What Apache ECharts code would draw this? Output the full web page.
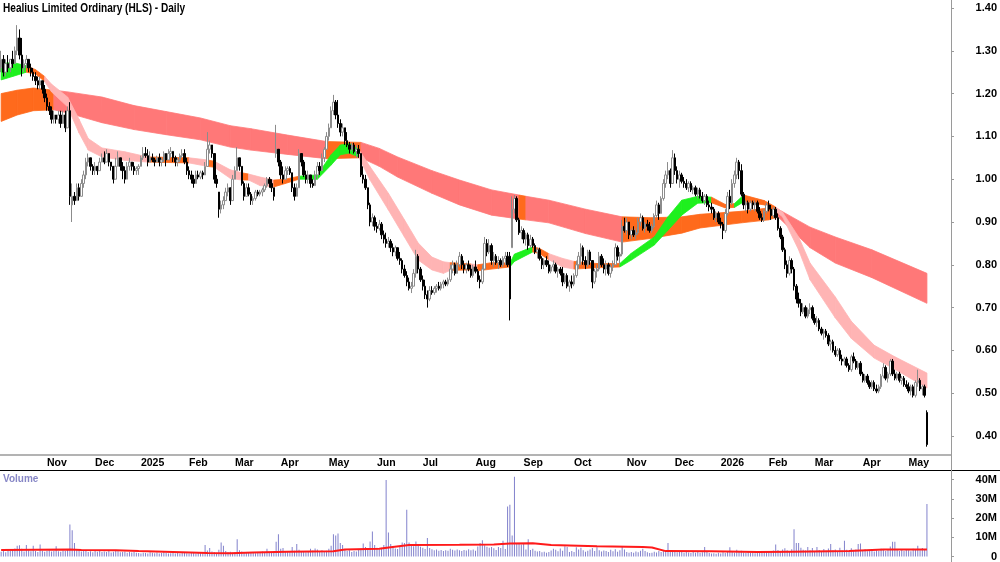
<!DOCTYPE html>
<html>
<head>
<meta charset="utf-8">
<script src="https://cdn.jsdelivr.net/npm/echarts@6/dist/echarts.min.js"></script>
<style>
html,body{margin:0;padding:0;background:#fff;}
#main{width:1000px;height:562px;}
</style>
</head>
<body>
<div id="main"></div>
<script>
// daily bars, one row = 10 sessions
var opens = [
1.26,1.28,1.25,1.27,1.26,1.28,1.27,1.30,1.33,1.29,
1.26,1.27,1.28,1.26,1.25,1.24,1.23,1.22,1.23,1.21,
1.19,1.17,1.16,1.14,1.15,1.14,1.15,1.13,1.15,1.12,
1.16,0.94,0.96,0.95,0.98,0.96,0.99,1.01,1.04,1.05,
1.03,1.02,1.03,1.02,1.04,1.05,1.04,1.06,1.04,1.03,
1.00,1.03,1.05,1.03,1.02,1.00,1.03,1.04,1.03,1.02,
1.025,1.03,1.05,1.06,1.055,1.04,1.05,1.045,1.04,1.05,
1.04,1.045,1.06,1.045,1.06,1.065,1.05,1.04,1.045,1.055,
1.06,1.04,1.02,1.01,1.00,0.99,1.01,1.005,1.015,1.01,
1.03,1.07,1.08,1.06,1.00,0.97,0.93,0.94,0.95,0.97,
0.98,0.95,1.00,1.02,1.05,1.03,0.99,0.96,0.98,0.965,
0.95,0.955,0.97,0.965,0.97,0.975,0.985,1.00,0.99,0.98,
1.06,1.07,1.04,1.01,1.00,1.02,1.025,1.015,0.98,0.96,
0.98,1.06,1.04,1.01,1.00,1.01,0.99,0.985,1.01,1.03,
1.02,1.05,1.07,1.10,1.12,1.16,1.18,1.15,1.13,1.11,
1.12,1.09,1.08,1.07,1.08,1.065,1.07,1.06,1.01,1.00,
0.98,0.94,0.90,0.91,0.89,0.885,0.895,0.87,0.86,0.85,
0.855,0.84,0.83,0.84,0.815,0.81,0.79,0.775,0.76,0.745,
0.75,0.78,0.82,0.79,0.765,0.75,0.73,0.72,0.74,0.735,
0.745,0.75,0.745,0.755,0.76,0.755,0.765,0.79,0.80,0.78,
0.80,0.82,0.80,0.79,0.80,0.79,0.775,0.795,0.785,0.765,
0.76,0.79,0.85,0.83,0.845,0.81,0.82,0.805,0.81,0.80,
0.815,0.82,0.82,0.84,0.93,0.955,0.905,0.875,0.88,0.86,
0.87,0.845,0.86,0.845,0.83,0.835,0.815,0.80,0.81,0.80,
0.785,0.795,0.80,0.785,0.79,0.78,0.76,0.775,0.75,0.76,
0.755,0.775,0.80,0.82,0.84,0.81,0.80,0.83,0.81,0.76,
0.785,0.79,0.82,0.80,0.79,0.80,0.78,0.795,0.80,0.84,
0.82,0.825,0.89,0.88,0.90,0.87,0.88,0.87,0.875,0.90,
0.91,0.885,0.895,0.89,0.88,0.89,0.915,0.94,0.92,0.955,
0.99,1.01,1.02,0.99,1.05,1.02,1.00,1.01,0.995,0.99,
0.98,0.99,0.975,0.98,0.965,0.975,0.96,0.95,0.96,0.94,
0.935,0.93,0.91,0.92,0.90,0.895,0.88,0.92,0.96,0.945,
0.99,1.01,1.04,1.02,0.965,0.94,0.945,0.93,0.945,0.94,
0.945,0.925,0.91,0.905,0.925,0.94,0.93,0.915,0.93,0.91,
0.885,0.865,0.835,0.80,0.78,0.81,0.79,0.75,0.72,0.71,
0.69,0.70,0.68,0.695,0.70,0.675,0.665,0.67,0.65,0.64,
0.645,0.635,0.615,0.62,0.60,0.59,0.60,0.58,0.575,0.58,
0.565,0.555,0.585,0.575,0.56,0.57,0.545,0.53,0.54,0.525,
0.515,0.525,0.51,0.505,0.515,0.54,0.56,0.535,0.545,0.575,
0.545,0.535,0.545,0.53,0.535,0.52,0.515,0.505,0.515,0.495,
0.525,0.53,0.51,0.515,0.455
];
var highs = [
1.30,1.29,1.28,1.29,1.28,1.30,1.31,1.36,1.35,1.33,
1.28,1.29,1.28,1.27,1.26,1.25,1.24,1.24,1.23,1.22,
1.20,1.18,1.17,1.16,1.15,1.16,1.16,1.16,1.16,1.17,
1.18,0.99,0.97,0.99,0.99,1.00,1.02,1.05,1.06,1.05,
1.035,1.04,1.03,1.05,1.06,1.065,1.07,1.06,1.04,1.03,
1.05,1.065,1.05,1.04,1.03,1.04,1.05,1.04,1.04,1.03,
1.035,1.055,1.075,1.075,1.07,1.065,1.06,1.05,1.055,1.06,
1.05,1.065,1.06,1.07,1.075,1.065,1.055,1.05,1.06,1.07,
1.07,1.05,1.03,1.02,1.01,1.02,1.02,1.02,1.02,1.04,
1.11,1.09,1.08,1.06,1.01,0.97,0.95,0.96,0.98,0.99,
0.98,1.01,1.03,1.075,1.05,1.03,0.995,0.99,0.99,0.97,
0.96,0.975,0.975,0.975,0.98,0.99,1.005,1.005,1.00,0.98,
1.127,1.07,1.045,1.03,1.03,1.03,1.03,1.015,0.99,0.99,
1.07,1.06,1.045,1.02,1.02,1.01,1.00,1.02,1.04,1.04,
1.06,1.075,1.11,1.13,1.17,1.197,1.185,1.185,1.14,1.13,
1.12,1.11,1.087,1.085,1.085,1.08,1.08,1.06,1.03,1.01,
0.98,0.945,0.92,0.915,0.90,0.905,0.90,0.88,0.875,0.865,
0.86,0.85,0.845,0.84,0.83,0.815,0.80,0.785,0.77,0.76,
0.79,0.835,0.825,0.795,0.775,0.765,0.74,0.75,0.75,0.75,
0.755,0.76,0.76,0.765,0.765,0.77,0.80,0.81,0.805,0.81,
0.83,0.825,0.81,0.805,0.81,0.80,0.80,0.81,0.79,0.775,
0.80,0.865,0.86,0.86,0.85,0.83,0.825,0.82,0.815,0.82,
0.83,0.83,0.83,0.96,0.963,0.96,0.91,0.89,0.885,0.875,
0.875,0.87,0.865,0.85,0.84,0.84,0.82,0.815,0.82,0.81,
0.80,0.81,0.805,0.795,0.795,0.795,0.78,0.78,0.765,0.775,
0.78,0.81,0.83,0.85,0.845,0.82,0.835,0.835,0.81,0.79,
0.80,0.83,0.825,0.815,0.81,0.805,0.80,0.81,0.85,0.845,
0.83,0.905,0.91,0.91,0.90,0.885,0.89,0.885,0.91,0.92,
0.915,0.90,0.905,0.90,0.895,0.92,0.95,0.945,0.96,1.00,
1.02,1.04,1.025,1.068,1.06,1.03,1.02,1.015,1.005,1.00,
0.995,0.995,0.985,0.985,0.98,0.98,0.97,0.965,0.965,0.95,
0.945,0.935,0.925,0.925,0.91,0.90,0.93,0.97,0.975,1.00,
1.02,1.05,1.045,1.035,0.97,0.95,0.95,0.95,0.95,0.95,
0.95,0.935,0.92,0.93,0.945,0.95,0.94,0.935,0.935,0.92,
0.89,0.87,0.84,0.81,0.82,0.815,0.795,0.755,0.735,0.72,
0.71,0.705,0.70,0.71,0.705,0.685,0.68,0.675,0.655,0.65,
0.65,0.64,0.625,0.625,0.61,0.605,0.605,0.59,0.585,0.585,
0.57,0.59,0.595,0.58,0.575,0.575,0.55,0.545,0.545,0.53,
0.53,0.53,0.52,0.52,0.545,0.57,0.565,0.55,0.58,0.58,
0.555,0.55,0.55,0.54,0.54,0.53,0.525,0.52,0.52,0.53,
0.555,0.535,0.52,0.52,0.46
];
var lows = [
1.25,1.24,1.24,1.25,1.25,1.26,1.27,1.29,1.28,1.24,
1.25,1.26,1.25,1.24,1.23,1.22,1.21,1.21,1.20,1.18,
1.16,1.15,1.13,1.13,1.13,1.13,1.12,1.13,1.11,1.12,
0.94,0.90,0.94,0.95,0.95,0.96,0.98,1.00,1.03,1.02,
1.01,1.01,1.01,1.02,1.04,1.035,1.04,1.03,1.02,0.99,
1.00,1.03,1.02,1.00,0.99,1.00,1.02,1.02,1.01,1.01,
1.01,1.03,1.045,1.05,1.03,1.04,1.04,1.03,1.04,1.03,
1.03,1.04,1.03,1.045,1.05,1.04,1.03,1.03,1.04,1.05,
1.035,1.01,1.00,0.99,0.98,0.99,1.00,1.00,1.00,1.01,
1.03,1.06,1.05,0.99,0.98,0.91,0.92,0.93,0.95,0.96,
0.94,0.95,1.00,1.02,1.02,0.985,0.95,0.96,0.96,0.94,
0.94,0.95,0.96,0.96,0.96,0.97,0.98,0.98,0.97,0.95,
1.05,1.03,1.00,0.99,1.00,1.01,1.01,0.97,0.95,0.96,
0.98,1.03,1.005,0.99,0.99,0.98,0.98,0.985,1.00,1.01,
1.02,1.04,1.07,1.09,1.12,1.15,1.14,1.12,1.10,1.10,
1.08,1.075,1.06,1.065,1.06,1.05,1.05,1.005,0.99,0.975,
0.93,0.89,0.89,0.88,0.875,0.88,0.86,0.85,0.84,0.84,
0.83,0.82,0.82,0.81,0.80,0.78,0.77,0.75,0.74,0.734,
0.75,0.77,0.78,0.76,0.74,0.72,0.70,0.715,0.73,0.73,
0.735,0.74,0.74,0.745,0.75,0.75,0.76,0.78,0.775,0.78,
0.795,0.79,0.78,0.78,0.785,0.77,0.77,0.78,0.76,0.745,
0.755,0.79,0.82,0.825,0.80,0.795,0.80,0.79,0.795,0.795,
0.80,0.795,0.67,0.84,0.92,0.90,0.87,0.86,0.85,0.845,
0.835,0.84,0.84,0.825,0.815,0.81,0.79,0.79,0.795,0.78,
0.78,0.785,0.78,0.77,0.775,0.75,0.755,0.745,0.737,0.745,
0.75,0.77,0.79,0.80,0.80,0.79,0.795,0.80,0.745,0.755,
0.77,0.785,0.795,0.78,0.775,0.775,0.77,0.785,0.80,0.81,
0.80,0.82,0.875,0.87,0.86,0.86,0.865,0.86,0.87,0.89,
0.88,0.875,0.88,0.875,0.875,0.885,0.91,0.905,0.92,0.95,
0.98,1.00,0.98,0.99,1.01,0.99,0.98,0.99,0.98,0.975,
0.97,0.97,0.965,0.96,0.955,0.955,0.945,0.94,0.935,0.925,
0.92,0.905,0.90,0.895,0.885,0.86,0.875,0.915,0.93,0.94,
0.98,1.00,1.00,0.96,0.93,0.925,0.92,0.925,0.93,0.925,
0.92,0.905,0.90,0.90,0.92,0.925,0.905,0.91,0.905,0.88,
0.86,0.83,0.79,0.77,0.775,0.78,0.74,0.71,0.70,0.68,
0.685,0.675,0.675,0.685,0.67,0.66,0.655,0.645,0.635,0.625,
0.63,0.61,0.60,0.595,0.585,0.585,0.575,0.565,0.565,0.56,
0.55,0.55,0.57,0.555,0.555,0.54,0.525,0.525,0.52,0.51,
0.51,0.505,0.50,0.50,0.51,0.535,0.53,0.525,0.54,0.54,
0.53,0.53,0.525,0.52,0.515,0.51,0.50,0.495,0.49,0.49,
0.515,0.505,0.495,0.49,0.375
];
var closes = [
1.28,1.25,1.27,1.26,1.28,1.27,1.30,1.33,1.29,1.26,
1.27,1.28,1.26,1.25,1.24,1.23,1.22,1.23,1.21,1.19,
1.17,1.16,1.14,1.15,1.14,1.15,1.13,1.15,1.12,1.16,
0.96,0.96,0.95,0.98,0.96,0.99,1.01,1.04,1.05,1.03,
1.02,1.03,1.02,1.04,1.05,1.04,1.06,1.04,1.03,1.00,
1.03,1.05,1.03,1.02,1.00,1.03,1.04,1.03,1.02,1.025,
1.03,1.05,1.06,1.055,1.04,1.05,1.045,1.04,1.05,1.04,
1.045,1.06,1.045,1.06,1.065,1.05,1.04,1.045,1.055,1.06,
1.04,1.02,1.01,1.00,0.99,1.01,1.005,1.015,1.01,1.03,
1.07,1.08,1.06,1.00,0.99,0.93,0.94,0.95,0.97,0.98,
0.95,1.00,1.02,1.05,1.03,0.99,0.96,0.98,0.965,0.95,
0.955,0.97,0.965,0.97,0.975,0.985,1.00,0.99,0.98,0.96,
1.07,1.04,1.01,1.00,1.02,1.025,1.015,0.98,0.96,0.98,
1.06,1.04,1.01,1.00,1.01,0.99,0.985,1.01,1.03,1.02,
1.05,1.07,1.10,1.12,1.16,1.18,1.15,1.13,1.11,1.12,
1.09,1.08,1.07,1.08,1.065,1.07,1.06,1.01,1.00,0.98,
0.94,0.90,0.91,0.89,0.885,0.895,0.87,0.86,0.85,0.855,
0.84,0.83,0.84,0.815,0.81,0.79,0.775,0.76,0.745,0.75,
0.78,0.82,0.79,0.765,0.75,0.73,0.72,0.74,0.735,0.745,
0.75,0.745,0.755,0.76,0.755,0.765,0.79,0.80,0.78,0.80,
0.82,0.80,0.79,0.80,0.79,0.775,0.795,0.785,0.765,0.76,
0.79,0.85,0.83,0.845,0.81,0.82,0.805,0.81,0.80,0.815,
0.82,0.80,0.72,0.93,0.955,0.905,0.875,0.88,0.86,0.87,
0.845,0.86,0.845,0.83,0.835,0.815,0.80,0.81,0.80,0.785,
0.795,0.80,0.785,0.79,0.78,0.76,0.775,0.75,0.76,0.755,
0.775,0.80,0.82,0.84,0.81,0.80,0.83,0.81,0.76,0.785,
0.79,0.82,0.80,0.79,0.80,0.78,0.795,0.80,0.84,0.82,
0.825,0.89,0.88,0.90,0.87,0.88,0.87,0.875,0.90,0.91,
0.885,0.895,0.89,0.88,0.89,0.915,0.94,0.92,0.955,0.99,
1.01,1.02,0.99,1.05,1.02,1.00,1.01,0.995,0.99,0.98,
0.99,0.975,0.98,0.965,0.975,0.96,0.95,0.96,0.94,0.935,
0.93,0.91,0.92,0.90,0.895,0.88,0.92,0.96,0.945,0.99,
1.01,1.04,1.02,0.965,0.94,0.945,0.93,0.945,0.94,0.945,
0.925,0.91,0.905,0.925,0.94,0.93,0.915,0.93,0.91,0.885,
0.865,0.835,0.80,0.78,0.81,0.79,0.75,0.72,0.71,0.69,
0.70,0.68,0.695,0.70,0.675,0.665,0.67,0.65,0.64,0.645,
0.635,0.615,0.62,0.60,0.59,0.60,0.58,0.575,0.58,0.565,
0.555,0.585,0.575,0.56,0.57,0.545,0.53,0.54,0.525,0.515,
0.525,0.51,0.505,0.515,0.54,0.56,0.535,0.545,0.575,0.545,
0.535,0.545,0.53,0.535,0.52,0.515,0.505,0.515,0.495,0.525,
0.53,0.51,0.515,0.495,0.38
];
// volume in millions
var volumes = [
2.5,3.1,2.2,3.0,2.8,3.4,4.2,5.6,5.8,4.1,
2.6,6.0,3.2,2.7,5.6,2.9,2.4,6.2,3.0,2.5,
2.8,3.3,2.6,2.9,5.3,2.7,2.5,3.1,2.8,3.4,
16.7,13.7,7.0,3.8,3.6,2.6,2.9,3.1,2.4,2.7,
2.2,2.8,2.5,2.9,2.3,2.6,2.4,2.8,2.1,2.5,
3.0,2.7,2.2,2.4,2.6,1.9,2.3,2.1,2.5,2.0,
1.8,1.6,2.0,1.8,1.5,2.2,1.9,1.7,2.1,1.6,
1.8,2.4,1.9,1.5,1.7,2.0,1.6,1.8,1.5,1.9,
2.2,1.7,1.6,2.0,1.8,1.5,1.9,2.3,2.1,6.0,
3.1,4.4,2.6,2.3,1.9,3.5,7.3,5.6,2.8,2.2,
2.5,1.9,2.4,9.0,3.2,2.6,2.1,1.8,2.3,1.9,
2.0,1.7,2.2,1.9,2.6,2.1,4.0,2.4,2.0,2.7,
7.7,11.6,4.0,4.4,2.8,2.3,2.5,5.0,3.0,6.5,
3.5,2.6,2.9,2.2,2.7,4.0,3.1,4.2,3.6,2.8,
3.3,2.6,3.0,4.1,5.6,11.6,11.0,12.0,7.0,6.0,
3.6,2.9,3.3,2.4,2.8,2.6,3.5,4.2,6.8,5.0,
4.1,7.8,13.0,6.0,4.5,3.8,4.6,6.0,39.8,12.5,
6.5,4.8,4.2,3.9,5.2,7.3,7.0,24.4,7.3,6.1,
5.4,7.8,6.5,5.1,4.6,3.9,9.6,4.4,3.8,3.2,
3.6,3.0,3.4,2.8,3.3,3.0,4.1,3.5,3.1,3.7,
3.3,2.9,3.4,3.1,3.8,3.3,3.6,3.0,5.2,7.0,
8.5,5.8,5.1,4.6,5.0,4.3,3.4,5.0,4.4,8.2,
3.9,26.0,27.0,11.0,41.5,6.5,6.8,6.2,6.6,3.6,
9.0,3.4,4.0,3.0,2.6,2.8,2.2,2.5,2.0,2.4,
3.1,4.0,3.5,2.7,4.2,3.0,5.3,5.0,2.3,2.8,
2.4,4.8,3.6,4.6,3.2,2.5,3.0,3.6,4.4,2.8,
4.8,3.3,2.6,3.1,2.9,2.4,3.5,2.7,3.8,2.5,
3.2,5.0,3.6,2.4,2.0,2.3,1.9,2.6,2.2,3.0,
4.0,2.8,2.2,1.8,2.0,2.5,2.1,2.8,2.3,3.2,
2.7,7.0,2.9,3.4,2.6,2.2,2.8,2.4,1.9,2.6,
2.1,1.8,2.3,2.0,2.5,1.9,2.2,5.0,2.4,1.8,
1.5,1.7,1.4,1.9,1.6,2.2,1.8,2.6,4.8,2.3,
2.0,3.5,2.4,3.0,2.1,1.8,2.5,1.9,2.2,1.7,
2.0,2.4,1.9,2.7,2.2,2.9,2.5,3.1,6.2,3.4,
2.8,3.6,4.3,3.2,2.9,3.8,14.2,7.0,7.0,4.6,
3.5,3.1,5.0,3.3,4.4,2.9,5.0,3.4,2.7,3.9,
3.0,4.2,6.5,3.2,3.7,2.8,4.5,3.1,8.2,3.5,
2.9,4.3,3.0,3.6,6.5,6.8,3.2,3.8,2.7,3.4,
3.0,2.6,3.3,2.8,4.0,3.4,2.9,3.6,5.2,7.7,
7.7,3.8,2.9,3.4,2.8,3.9,3.3,2.7,4.1,3.5,
5.6,3.2,4.4,3.6,27.4
];
// red volume average line, read at sample sessions
var volAvgIdx = [0,30,35,50,60,75,90,100,110,125,145,150,165,170,178,200,215,222,232,240,260,280,284,290,310,330,345,370,385,404];
var volAvg    = [3.4,3.6,3.4,3.3,2.8,2.3,1.8,1.7,2.1,2.5,2.7,3.7,4.0,4.8,6.0,6.1,6.3,6.8,6.9,6.0,5.4,4.9,4.7,2.8,2.7,2.3,2.5,2.9,3.6,3.6];

// long-term ribbon (edges read at sample sessions), trend per segment: d = falling, f = flat
var longIdx = [0,7,14,23,29,44,58,72,87,100,109,125,142,157,165,173,188,200,214,226,229,239,255,271,284,297,305,323,335,339,353,364,380,404];
var longHi  = [1.200,1.208,1.213,1.208,1.204,1.192,1.172,1.158,1.143,1.125,1.118,1.103,1.088,1.086,1.072,1.052,1.020,0.998,0.975,0.963,0.960,0.951,0.930,0.912,0.910,0.912,0.918,0.925,0.933,0.930,0.888,0.865,0.835,0.780];
var longLo  = [1.135,1.150,1.160,1.162,1.155,1.132,1.116,1.104,1.092,1.075,1.068,1.058,1.048,1.050,1.030,1.005,0.967,0.940,0.916,0.907,0.905,0.898,0.873,0.853,0.862,0.874,0.886,0.898,0.905,0.912,0.840,0.804,0.770,0.710];
var longTrend = ['f','f','f','d','d','d','d','d','d','d','d','d','f','d','d','d','d','d','d','f','d','d','d','f','f','f','f','f','f','d','d','d','d'];

// short-term ribbon, trend: u = rising, d = falling, f = flat
var shortIdx = [0,5,11,15,19,22,29,34,38,44,54,64,82,90,93,100,105,108,113,119,124,130,138,144,148,152,156,161,169,176,182,188,193,196,205,208,214,222,224,232,235,239,245,250,260,270,275,285,291,297,304,310,316,320,324,333,338,341,348,353,364,371,381,390,404];
var shortHi = [1.270,1.273,1.265,1.256,1.240,1.222,1.192,1.140,1.095,1.073,1.064,1.052,1.050,1.045,1.042,1.022,1.015,1.012,1.005,0.998,1.000,1.007,1.010,1.057,1.080,1.083,1.070,1.029,0.967,0.905,0.851,0.818,0.807,0.805,0.802,0.800,0.805,0.804,0.825,0.842,0.838,0.826,0.815,0.808,0.803,0.803,0.827,0.865,0.912,0.951,0.960,0.958,0.941,0.943,0.963,0.950,0.935,0.923,0.865,0.804,0.725,0.668,0.612,0.585,0.547];
var shortLo = [1.232,1.240,1.250,1.246,1.228,1.204,1.169,1.108,1.068,1.052,1.044,1.040,1.038,1.030,1.028,1.002,0.998,0.998,0.985,0.982,0.990,1.000,1.000,1.033,1.057,1.061,1.052,0.998,0.928,0.865,0.811,0.788,0.780,0.787,0.788,0.786,0.790,0.795,0.808,0.830,0.826,0.812,0.795,0.790,0.793,0.795,0.811,0.846,0.881,0.916,0.944,0.945,0.933,0.934,0.947,0.940,0.925,0.912,0.835,0.765,0.676,0.628,0.582,0.556,0.512];
var shortTrend = ['u','u','f','f','d','d','d','d','d','d',
                  'd','f','d','f','d','d','f','d','d','f',
                  'f','u','u','u','u','u','d','d','d','d',
                  'd','d','d','f','d','f','f','u','u','f',
                  'f','d','d','f','f','u','u','u','u','u',
                  'u','f','f','u','f','f','d','d','d','d',
                  'd','d','d','d'];

// month ticks (session index where month starts)
var monthIdx = [20,41,61,82,102,122,143,164,184,207,228,250,273,294,314,335,355,376,396];
var monthLbl = ['Nov','Dec','2025','Feb','Mar','Apr','May','Jun','Jul','Aug','Sep','Oct','Nov','Dec','2026','Feb','Mar','Apr','May'];
var priceTicks = [0.4,0.5,0.6,0.7,0.8,0.9,1.0,1.1,1.2,1.3,1.4];
var volTicks = [0,10,20,30,40];

var NSLOT = 415; // sessions plus empty space before the axis
var FONT = "'Liberation Sans',Arial,sans-serif";

var cats = [];
for (var i = 0; i < NSLOT; i++) cats.push(String(i));
var monthMap = {};
for (var i = 0; i < monthIdx.length; i++) monthMap[monthIdx[i]] = monthLbl[i];
function isMonth(index) { return monthMap[index] !== undefined; }

var candles = [];
for (var i = 0; i < opens.length; i++) candles.push([opens[i], closes[i], lows[i], highs[i]]);

var volAvgData = [];
for (var i = 0; i < volAvgIdx.length; i++) volAvgData.push([volAvgIdx[i], volAvg[i]]);

function ribbon(idx, hi, lo, trend, colors, z) {
  var data = [];
  for (var i = 0; i < idx.length - 1; i++) {
    data.push([idx[i], idx[i + 1], lo[i], hi[i], lo[i + 1], hi[i + 1]]);
  }
  return {
    type: 'custom', xAxisIndex: 0, yAxisIndex: 0, z: z, silent: true,
    encode: {x: [0, 1], y: [2, 3, 4, 5]},
    renderItem: function (params, api) {
      var a = api.coord([api.value(0), api.value(3)]);
      var b = api.coord([api.value(1), api.value(5)]);
      var c = api.coord([api.value(1), api.value(4)]);
      var d = api.coord([api.value(0), api.value(2)]);
      var col = colors[trend[params.dataIndex]];
      return {type: 'polygon', shape: {points: [a, b, c, d]},
              style: {fill: col, stroke: col, lineWidth: 0.8}};
    },
    data: data
  };
}

var chart = echarts.init(document.getElementById('main'));
var option = {
  animation: false,
  backgroundColor: '#fff',
  grid: [
    {left: 0, right: 49, top: 0, height: 455},
    {left: 0, right: 49, top: 472, bottom: 4}
  ],
  xAxis: [
    {type: 'category', gridIndex: 0, data: cats, boundaryGap: true,
     axisLine: {lineStyle: {color: '#9a9a9a', width: 1.5}},
     axisTick: {interval: isMonth, length: 4, lineStyle: {color: '#9a9a9a'}},
     axisLabel: {interval: isMonth, formatter: function (v, i) { return monthMap[i] || ''; },
                 align: 'left', margin: 3, fontFamily: FONT, fontSize: 10.5, fontWeight: 'bold', color: '#000'},
     splitLine: {show: false}},
    {type: 'category', gridIndex: 1, data: cats, boundaryGap: true,
     axisLine: {show: false}, axisTick: {show: false}, axisLabel: {show: false}, splitLine: {show: false}}
  ],
  yAxis: [
    {type: 'value', gridIndex: 0, position: 'right', min: 0.3556, max: 1.4187,
     axisLine: {show: true, lineStyle: {color: '#9a9a9a'}},
     axisTick: {show: true, length: 3, customValues: priceTicks, lineStyle: {color: '#9a9a9a'}},
     axisLabel: {customValues: priceTicks, formatter: function (v) { return v.toFixed(2); },
                 align: 'right', margin: 46, fontFamily: FONT, fontSize: 11, fontWeight: 'bold', color: '#000'},
     splitLine: {show: false}},
    {type: 'value', gridIndex: 1, position: 'right', min: 0, max: 44,
     axisLine: {show: true, lineStyle: {color: '#9a9a9a'}},
     axisTick: {show: true, length: 3, customValues: volTicks, lineStyle: {color: '#9a9a9a'}},
     axisLabel: {customValues: volTicks, formatter: function (v) { return v === 0 ? '0' : v + 'M'; },
                 align: 'right', margin: 46, fontFamily: FONT, fontSize: 11, fontWeight: 'bold', color: '#000'},
     splitLine: {show: false}}
  ],
  graphic: [
    {type: 'text', x: 3, y: 3, scaleX: 0.84, z: 20,
     style: {text: 'Healius Limited Ordinary (HLS) - Daily', font: 'bold 12px ' + FONT, fill: '#000'}},
    {type: 'text', x: 3, y: 474, z: 20,
     style: {text: 'Volume', font: 'bold 10px ' + FONT, fill: '#8787c6'}},
    {type: 'line', shape: {x1: 0, y1: 470.5, x2: 1000, y2: 470.5}, style: {stroke: '#000', lineWidth: 1}, z: 10},
    {type: 'line', shape: {x1: 951.5, y1: 0, x2: 951.5, y2: 562}, style: {stroke: '#9a9a9a', lineWidth: 1}, z: 10}
  ],
  series: [
    ribbon(longIdx, longHi, longLo, longTrend, {d: '#ff7878', f: '#ff6a1c'}, 1),
    ribbon(shortIdx, shortHi, shortLo, shortTrend, {u: '#1ef01e', d: '#ffb4b4', f: '#ff6a1c'}, 2),
    {type: 'candlestick', xAxisIndex: 0, yAxisIndex: 0, z: 3, barWidth: 2,
     itemStyle: {color: '#ffffff', color0: '#000000', borderColor: '#8c8c8c', borderColor0: '#000000', borderWidth: 1},
     data: candles},
    {type: 'bar', xAxisIndex: 1, yAxisIndex: 1, barWidth: 1, z: 2,
     itemStyle: {color: '#8282cc'}, data: volumes},
    {type: 'line', xAxisIndex: 1, yAxisIndex: 1, z: 3, symbol: 'none', smooth: false,
     lineStyle: {color: '#ff1a1a', width: 2}, data: volAvgData}
  ]
};
chart.setOption(option);
</script>
</body>
</html>
